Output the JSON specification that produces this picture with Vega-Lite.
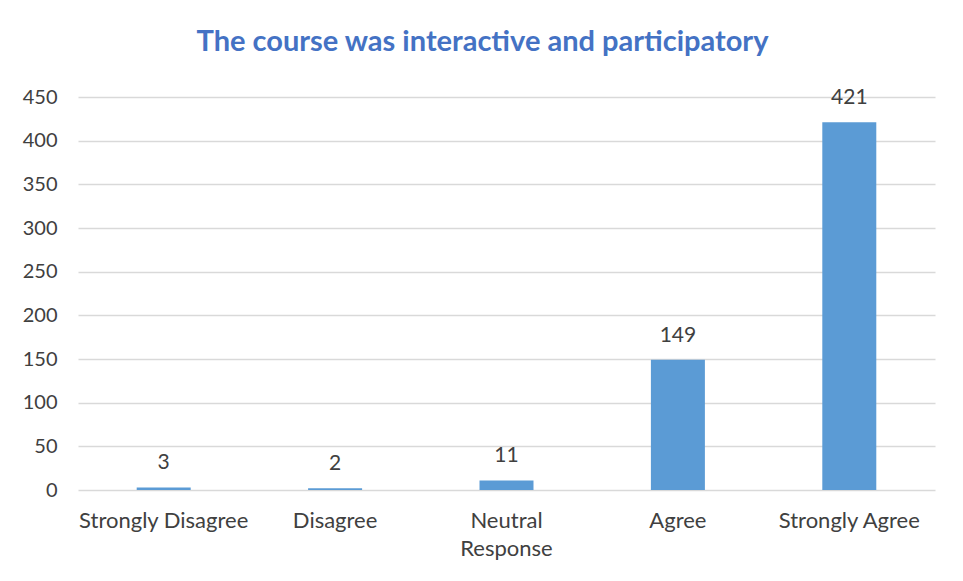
{
  "$schema": "https://vega.github.io/schema/vega-lite/v6.json",
  "width": 857,
  "height": 393,
  "autosize": {"type": "none"},
  "padding": {"left": 78, "top": 97, "right": 28, "bottom": 91},
  "background": "white",
  "title": {
    "text": "The course was interactive and participatory",
    "font": "Lato",
    "fontSize": 29,
    "fontWeight": "bold",
    "color": "#4472C4",
    "anchor": "middle",
    "dx": -24,
    "offset": 30
  },
  "data": {
    "values": [
      {"response": "Strongly Disagree", "count": 3},
      {"response": "Disagree", "count": 2},
      {"response": "Neutral Response", "count": 11},
      {"response": "Agree", "count": 149},
      {"response": "Strongly Agree", "count": 421}
    ]
  },
  "encoding": {
    "x": {
      "field": "response",
      "type": "nominal",
      "sort": null,
      "scale": {"paddingInner": 0.685, "paddingOuter": 0.3425},
      "axis": {
        "title": null,
        "labelAngle": 0,
        "domain": false,
        "ticks": false,
        "labelPadding": 20,
        "labelFont": "Lato",
        "labelFontSize": 22,
        "labelColor": "#404040",
        "labelLineHeight": 28,
        "labelExpr": "datum.label == 'Neutral Response' ? ['Neutral', 'Response'] : datum.label"
      }
    },
    "y": {
      "field": "count",
      "type": "quantitative",
      "scale": {"domain": [0, 450]},
      "axis": {
        "title": null,
        "values": [0, 50, 100, 150, 200, 250, 300, 350, 400, 450],
        "domain": false,
        "ticks": false,
        "labelPadding": 21,
        "labelFont": "Lato",
        "labelFontSize": 20,
        "labelColor": "#404040",
        "gridColor": "#d9d9d9",
        "gridWidth": 1.5
      }
    }
  },
  "layer": [
    {"mark": {"type": "bar", "color": "#5B9BD5"}},
    {
      "mark": {"type": "text", "baseline": "bottom", "dy": -14, "font": "Lato", "fontSize": 21, "color": "#404040"},
      "encoding": {"text": {"field": "count", "type": "quantitative"}}
    }
  ],
  "config": {"view": {"stroke": null}}
}
